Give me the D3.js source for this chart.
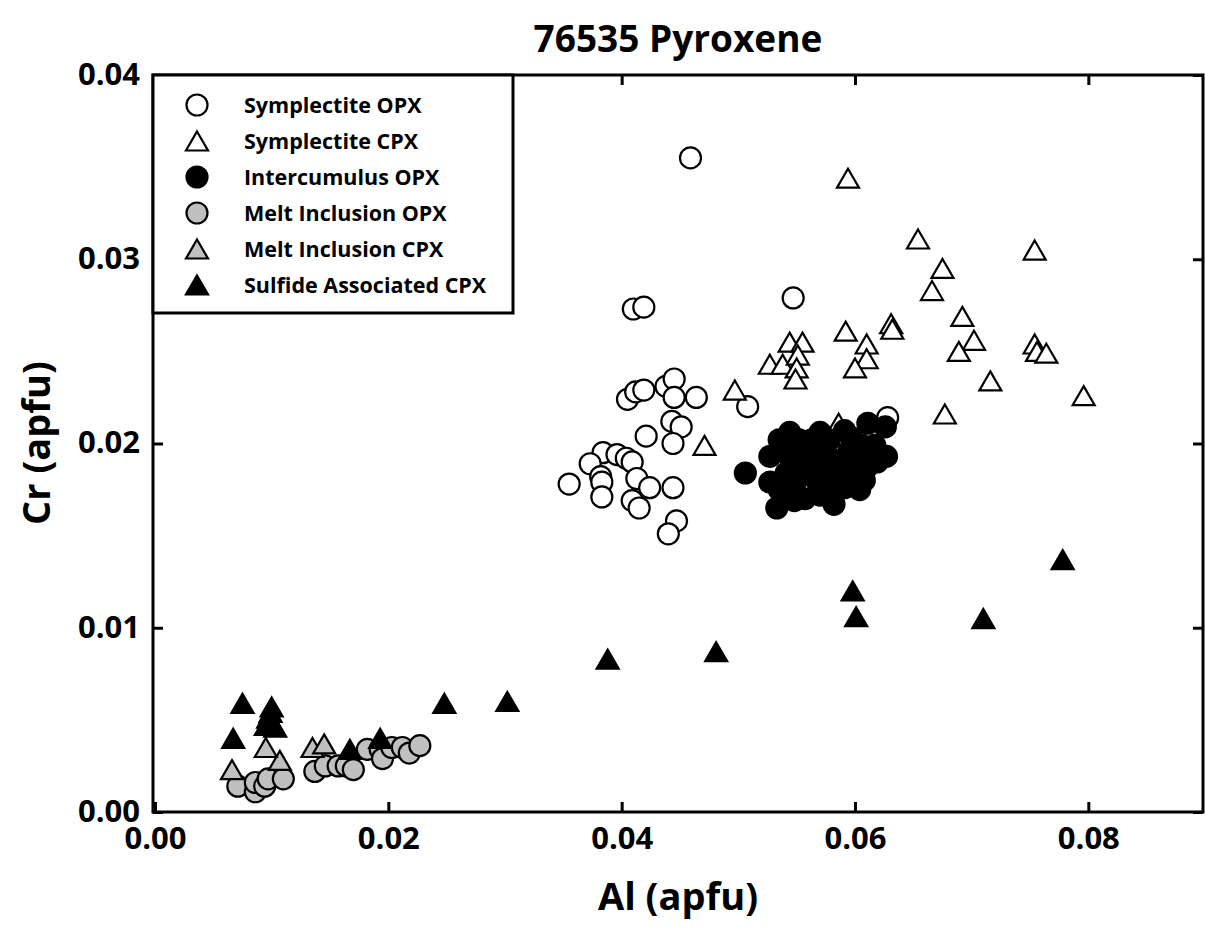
<!DOCTYPE html>
<html><head><meta charset="utf-8">
<script src="https://cdn.jsdelivr.net/npm/d3@7"></script>
<style>body{margin:0;background:#fff}text{font-family:"Open Sans",sans-serif;font-weight:bold}</style>
</head><body><svg id="chart" width="1205" height="934"></svg>
<script>
// ---- Data (Al apfu, Cr apfu) ----
const titleText = "76535 Pyroxene";
const xLabel = "Al (apfu)";
const yLabel = "Cr (apfu)";
const xTicks = [0, 0.02, 0.04, 0.06, 0.08];
const yTicks = [0, 0.01, 0.02, 0.03, 0.04];
const seriesNames = ["Symplectite OPX","Symplectite CPX","Intercumulus OPX","Melt Inclusion OPX","Melt Inclusion CPX","Sulfide Associated CPX"];

const symplectiteOPX = [
 [0.0459,0.0355],[0.0547,0.0279],[0.0410,0.0273],[0.0419,0.0274],[0.0405,0.0224],[0.0412,0.0228],
 [0.0419,0.0229],[0.0438,0.0231],[0.0445,0.0235],[0.0445,0.0225],[0.0464,0.0225],[0.0508,0.0220],
 [0.0443,0.0212],[0.0451,0.0209],[0.0421,0.0204],[0.0444,0.0200],[0.0384,0.0195],[0.0373,0.0189],
 [0.0396,0.0194],[0.0404,0.0192],[0.0409,0.0190],[0.0355,0.0178],[0.0382,0.0182],[0.0383,0.0179],
 [0.0383,0.0171],[0.0413,0.0181],[0.0424,0.0176],[0.0444,0.0176],[0.0409,0.0169],[0.0415,0.0165],
 [0.0447,0.0158],[0.0440,0.0151],[0.0628,0.0214]
];
const symplectiteCPX = [
 [0.0594,0.0344],[0.0654,0.0311],[0.0754,0.0305],[0.0675,0.0295],[0.0666,0.0283],[0.0692,0.0269],
 [0.0631,0.0265],[0.0632,0.0262],[0.0592,0.0261],[0.0702,0.0256],[0.0689,0.0250],[0.0754,0.0254],
 [0.0756,0.0250],[0.0764,0.0249],[0.0544,0.0255],[0.0555,0.0255],[0.0610,0.0254],[0.0527,0.0243],
 [0.0538,0.0243],[0.0551,0.0248],[0.0550,0.0241],[0.0549,0.0235],[0.0610,0.0246],[0.0600,0.0241],
 [0.0497,0.0229],[0.0716,0.0234],[0.0796,0.0226],[0.0677,0.0216],[0.0471,0.0199],[0.0586,0.0211]
];
const intercumulusOPX = [
 [0.0506,0.0184],[0.0533,0.0165],[0.0527,0.0179],[0.0527,0.0193],[0.0535,0.0202],[0.0544,0.0206],
 [0.0552,0.0202],[0.0563,0.0202],[0.0570,0.0206],[0.0578,0.0202],[0.0591,0.0207],[0.0597,0.0203],
 [0.0611,0.0211],[0.0626,0.0209],[0.0627,0.0193],[0.0604,0.0175],[0.0582,0.0167],[0.0557,0.0170],
 [0.0552,0.0191],[0.0576,0.0192],[0.0595,0.0196],[0.0610,0.0187],[0.0541,0.0184],[0.0567,0.0180],
 [0.0587,0.0182],[0.0535,0.0175],[0.0576,0.0175],[0.0561,0.0185],[0.0548,0.0177],[0.0600,0.0185],
 [0.0617,0.0199],[0.0606,0.0199],[0.0587,0.0191],[0.0565,0.0193],[0.0544,0.0193],[0.0552,0.0183],
 [0.0578,0.0184],[0.0591,0.0176],[0.0602,0.0191],[0.0619,0.0190],[0.0570,0.0172],[0.0548,0.0169],
 [0.0595,0.0181],[0.0608,0.0180],[0.0563,0.0198]
];
const meltInclusionOPX = [
 [0.0071,0.0014],[0.0086,0.0011],[0.0086,0.0016],[0.0094,0.0014],[0.0097,0.0018],[0.0110,0.0018],
 [0.0137,0.0022],[0.0146,0.0025],[0.0157,0.0025],[0.0164,0.0025],[0.0170,0.0023],[0.0182,0.0034],
 [0.0193,0.0034],[0.0195,0.0029],[0.0203,0.0035],[0.0212,0.0035],[0.0218,0.0032],[0.0227,0.0036]
];
const meltInclusionCPX = [
 [0.0066,0.0023],[0.0107,0.0028],[0.0095,0.0035],[0.0135,0.0035],[0.0145,0.0037]
];
const sulfideCPX = [
 [0.0075,0.0059],[0.0067,0.0040],[0.0100,0.0057],[0.0099,0.0054],[0.0097,0.0051],[0.0100,0.0049],
 [0.0095,0.0047],[0.0103,0.0046],[0.0167,0.0034],[0.0193,0.0040],[0.0248,0.0059],[0.0302,0.0060],
 [0.0388,0.0083],[0.0481,0.0087],[0.0598,0.0120],[0.0601,0.0106],[0.0710,0.0105],[0.0778,0.0137]
];

// ---- Layout ----
const m = {left:153, right:1203, top:75, bottom:812};
const svg = d3.select("#chart");
const x = d3.scaleLinear().domain([0, 0.09]).range([m.left + 2, m.right + 2]);
const y = d3.scaleLinear().domain([0, 0.04]).range([m.bottom, m.top]);

const triangle = (w, h) => ({draw(ctx){ctx.moveTo(0,-h/2);ctx.lineTo(w/2,h/2);ctx.lineTo(-w/2,h/2);ctx.closePath();}});
const styles = [
 {shape:"circle", fill:"#ffffff"},
 {shape:"tri", fill:"#ffffff"},
 {shape:"circle", fill:"#000000"},
 {shape:"circle", fill:"#c0c0c0"},
 {shape:"tri", fill:"#c0c0c0"},
 {shape:"tri", fill:"#000000"}
];
const allSeries = [symplectiteOPX, symplectiteCPX, intercumulusOPX, meltInclusionOPX, meltInclusionCPX, sulfideCPX];
const R = 10.5;
const symPath = d3.symbol().type(triangle(22, 19))();

function drawMarker(sel, st){
  if (st.shape === "circle") {
    sel.append("circle").attr("r", R).attr("fill", st.fill).attr("stroke", "#000").attr("stroke-width", 2.2);
  } else {
    sel.append("path").attr("d", symPath).attr("fill", st.fill).attr("stroke", "#000").attr("stroke-width", 2.2).attr("stroke-linejoin","miter");
  }
}

// ---- Points ----
const plot = svg.append("g");
allSeries.forEach((data, i) => {
  plot.append("g").selectAll("g").data(data).join("g")
    .attr("transform", d => `translate(${x(d[0])},${y(d[1])})`)
    .each(function(){ drawMarker(d3.select(this), styles[i]); });
});

// ---- Axes ----
const fmt = d3.format(".2f");
svg.append("g").attr("transform", `translate(0,${m.bottom})`)
  .call(d3.axisBottom(x).tickValues(xTicks).tickFormat(fmt).tickSizeInner(-10).tickSizeOuter(0).tickPadding(15))
  .call(g => { g.select(".domain").remove(); g.selectAll("line").attr("stroke-width", 3);
    g.selectAll("text").attr("font-size", 31).attr("fill", "#000"); });
svg.append("g").attr("transform", `translate(${m.left},0)`)
  .call(d3.axisLeft(y).tickValues(yTicks).tickFormat(fmt).tickSizeInner(-10).tickSizeOuter(0).tickPadding(13))
  .call(g => { g.select(".domain").remove(); g.selectAll("line").attr("stroke-width", 3);
    g.selectAll("text").attr("font-size", 31).attr("dy", "0.3em").attr("fill", "#000"); });
svg.append("g").attr("transform", `translate(${m.right},0)`)
  .call(d3.axisRight(y).tickValues(yTicks).tickFormat("").tickSizeInner(-10).tickSizeOuter(0))
  .call(g => { g.select(".domain").remove(); g.selectAll("line").attr("stroke-width", 3); });
svg.append("g").attr("transform", `translate(0,${m.top})`)
  .call(d3.axisTop(x).tickValues(xTicks).tickFormat("").tickSizeInner(-10).tickSizeOuter(0))
  .call(g => { g.select(".domain").remove(); g.selectAll("line").attr("stroke-width", 3); });

svg.append("rect").attr("x", m.left).attr("y", m.top).attr("width", m.right - m.left).attr("height", m.bottom - m.top)
  .attr("fill", "none").attr("stroke", "#000").attr("stroke-width", 3);

// ---- Legend ----
const lg = svg.append("g");
lg.append("rect").attr("x", m.left).attr("y", m.top).attr("width", 360).attr("height", 238)
  .attr("fill", "#fff").attr("stroke", "#000").attr("stroke-width", 3);
seriesNames.forEach((name, i) => {
  const yy = m.top + 30 + i * 36;
  const g = lg.append("g").attr("transform", `translate(197,${yy})`);
  drawMarker(g, styles[i]);
  lg.append("text").attr("x", 244).attr("y", yy).attr("dy", "0.36em").attr("font-size", 21.5).text(name);
});

// ---- Titles ----
svg.append("text").attr("x", (m.left + m.right) / 2).attr("y", 52).attr("text-anchor", "middle")
  .attr("font-size", 37).text(titleText);
svg.append("text").attr("x", (m.left + m.right) / 2).attr("y", 910).attr("text-anchor", "middle")
  .attr("font-size", 38).text(xLabel);
svg.append("text").attr("transform", `translate(50,443) rotate(-90)`).attr("text-anchor", "middle")
  .attr("font-size", 38).text(yLabel);
</script></body></html>
